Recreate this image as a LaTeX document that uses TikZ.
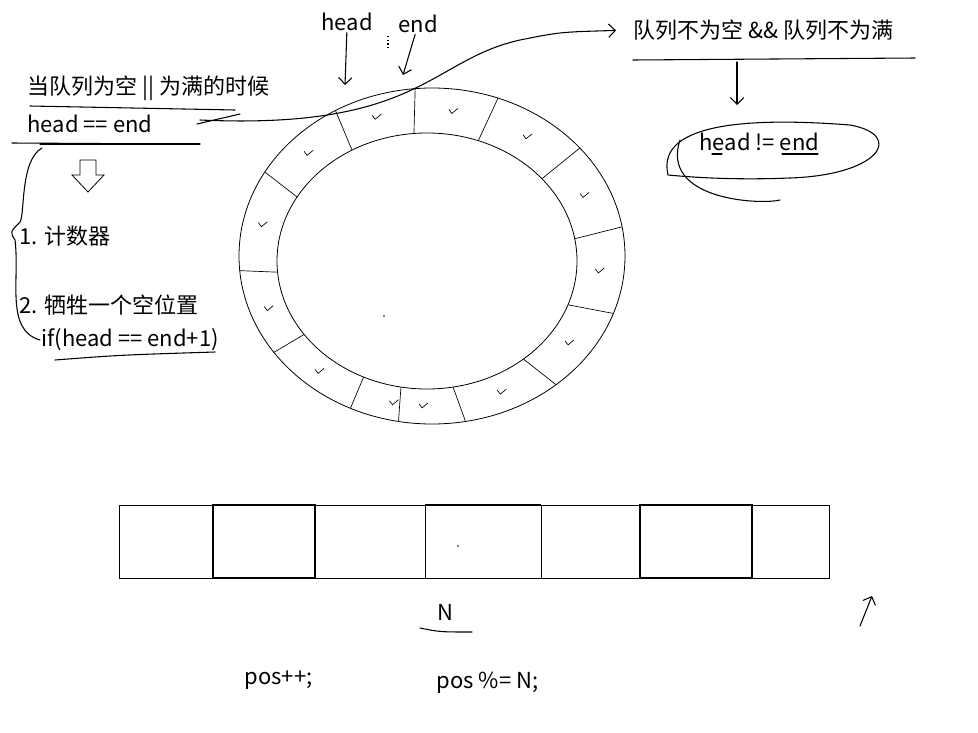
\documentclass[tikz,border=0pt]{standalone}
\usepackage{fontspec}
\setmainfont{Noto Sans CJK SC}
\usetikzlibrary{arrows.meta,positioning,calc}

\begin{document}
\begin{tikzpicture}[
	x=0.75pt, y=-0.75pt,
	> = {Straight Barb[length=5pt]}, % arrow head style
	T/.style={inner sep=1pt, font=\fontsize{16.5}{19}\selectfont, anchor=west},
	pen/.style={line width=0.8pt, line cap=round},
	cell/.style={draw, line width=0.6pt},
	]
	\useasboundingbox (0,0) rectangle (978,732);

	% Ring
	\draw[pen, line width=0.6pt] (432,256) ellipse [x radius=193, y radius=168];
	\draw[pen, line width=0.6pt] (427,261) ellipse [x radius=150, y radius=128];
	\foreach \a in {100,80,50,20,-10,-40,-70,-95,-120,-150,-185,-215,-245} {
		\draw[line width=0.5pt] ($(427,261)+(\a:150 and 128)$) -- ($(432,256)+(\a:193 and 168)$);
	}
	% ticks in cells
	\foreach \a in {92,65,35,5,-25,-55,-82,-108,-135,-167,-200,-230,-258} {
		\draw[line width=0.5pt] ($(430,258)+(\a:171 and 148)+(-5,-2)$) -- ++(3,4) -- ++(6,-5);
	}
	\fill (384,316) circle (0.8);

	% Top labels
	\node[T] (head) at (320,22) {head};
	\node[T] (end) at (397,24) {end};
	\coordinate (h1) at (345,85);
	\coordinate (e1) at (403,75);
	\draw[pen, ->] (head) -- (h1);
	\draw[pen, ->] (end) -- (e1);
	\draw[dotted, line width=0.8pt] (388,36) -- (388,48);

	% Left text
	\node[T] (cond) at (26,88) {当队列为空 || 为满的时候};
	\node[T] (eq) at (26,124) {head == end};
	\draw[pen] (30,106) -- (235,110);
	\draw[pen] (12,143) -- (180,144);
	\draw[pen] (40,144) -- (200,144);
	\draw[pen] (197,124) -- (240,114);

	% Curve to right
	\node[T] (notc) at (632,30) {队列不为空 \&\& 队列不为满};
	\draw[pen, ->, shorten >=12pt] (200,120) .. controls (420,130) and (430,60) .. (520,40) .. controls (560,32) .. (notc.west);
	\draw[pen] (633,60) -- (915,58);
	\node[T] (neq) at (698,142) {head != end};
	\coordinate (n1) at (737,105);
	\draw[pen, ->] (737,62) -- (n1);
	\draw[pen] (712,154) -- (722,154);
	\draw[pen] (782,154) -- (818,154);
	\draw[pen] (680,140) .. controls (660,200) and (760,205) .. (780,200);
	\draw[pen] (668,175) .. controls (655,120) and (760,118) .. (850,125) .. controls (905,135) and (880,175) .. (790,178) .. controls (740,180) and (700,178) .. (668,175);

	% Hollow arrow
	\draw[line width=0.6pt] (80,160) -- (96,160) -- (96,175) -- (104,175) -- (88,192) -- (72,175) -- (80,175) -- cycle;

	% Brace and items
	\draw[pen] (42,148) .. controls (20,160) and (25,215) .. (20,222) .. controls (10,232) .. (15,240) .. controls (20,280) and (5,330) .. (40,340);
	\node[T] (i1) at (18,236) {1. 计数器};
	\node[T] (i2) at (18,305) {2. 牺牲一个空位置};
	\node[T] (i3) at (40,340) {if(head == end+1)};
	\draw[pen] (55,360) .. controls (120,355) .. (215,352);

	% Array
	\draw[cell] (119,505) rectangle (829,578);
	\foreach \x in {213,315,425,541,640,752} {
		\draw[line width=0.6pt] (\x,505) -- (\x,578);
	}
	\draw[line width=1.2pt] (213,505) rectangle (315,578);
	\draw[line width=1.2pt] (640,505) rectangle (752,578);
	\draw[line width=1.0pt] (425,505) -- (541,505);
	\fill (458,546) circle (0.9);

	\node[T] (N) at (436,612) {N};
	\draw[pen] (420,628) .. controls (440,632) .. (472,632);
	\coordinate (a0) at (860,626);
	\coordinate (a1) at (872,596);
	\draw[pen, ->] (a0) -- (a1);

	\node[T] (inc) at (243,680) {pos++;};
	\node[T] (mod) at (435,683) {pos \%= N;};
\end{tikzpicture}
\end{document}
